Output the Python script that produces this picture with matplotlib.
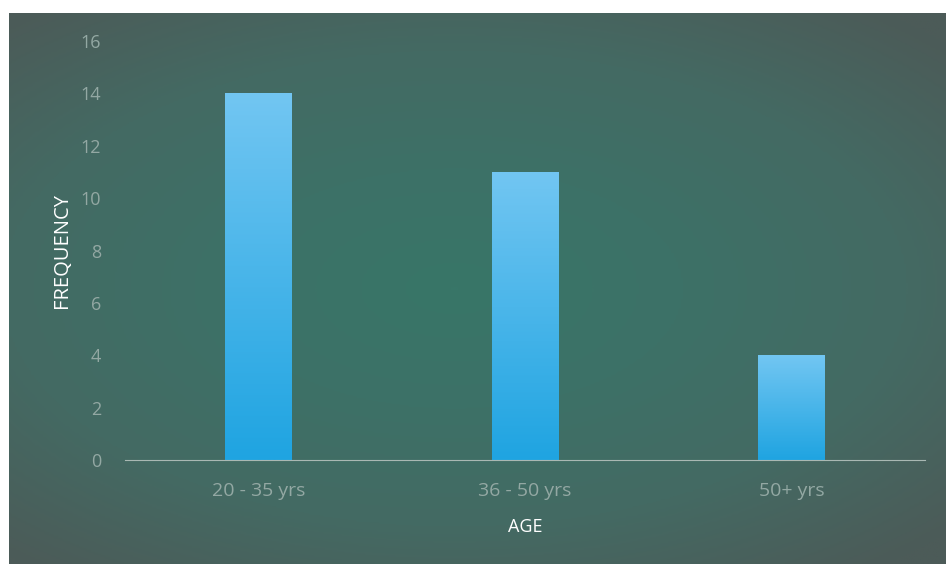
import numpy as np
import matplotlib.pyplot as plt
from matplotlib.colors import LinearSegmentedColormap

ages = ['20 - 35 yrs', '36 - 50 yrs', '50+ yrs']
frequency = [14, 11, 4]
yticks = [0, 2, 4, 6, 8, 10, 12, 14, 16]

plt.rcParams['font.family'] = ['Open Sans', 'DejaVu Sans']

fig = plt.figure(figsize=(9.46, 5.64), dpi=100)
fig.patch.set_facecolor('white')

# slide background: slate corners with a teal glow across the middle
bg = fig.add_axes([9 / 946, 0, 1 - 9 / 946, 1 - 13 / 564])
bg.set_axis_off()
gx, gy = np.meshgrid(np.linspace(-1, 1, 400), np.linspace(-1, 1, 240))
r = np.sqrt(((gx + 0.05) / 1.45) ** 2 + (gy / 1.3) ** 2)
bg_cmap = LinearSegmentedColormap.from_list('slide', ['#387668', '#3d7167', '#446a63', '#4c5b58'])
bg.imshow(np.clip(r, 0, 1), cmap=bg_cmap, aspect='auto', extent=[0, 1, 0, 1])

ax = fig.add_axes([125 / 946, 1 - 460 / 564, 800 / 946, (460 - 41) / 564])
ax.patch.set_alpha(0)

bars = ax.bar(range(len(ages)), frequency, width=0.25, color='#3fb0e6', zorder=2)

# vertical gradient inside each bar
bar_cmap = LinearSegmentedColormap.from_list('bar', ['#1fa4e1', '#72c6f2'])
grad = np.linspace(0, 1, 256).reshape(-1, 1)
for b in bars:
    x0, y0 = b.get_x(), b.get_y()
    im = ax.imshow(grad, cmap=bar_cmap, origin='lower', aspect='auto',
                   extent=[x0, x0 + b.get_width(), y0, y0 + b.get_height()], zorder=3)
    im.set_clip_path(b)

ax.set_xlim(-0.5, 2.5)
ax.set_ylim(0, 16)
ax.set_yticks(yticks)
ax.set_xticks(range(len(ages)))
ax.set_xticklabels(ages)

for s in ['top', 'right', 'left']:
    ax.spines[s].set_visible(False)
ax.spines['bottom'].set_color('#a9b8b3')
ax.spines['bottom'].set_linewidth(0.8)
ax.spines['bottom'].set_zorder(4)
ax.tick_params(length=0, labelsize=13, colors='#93a8a3')
ax.tick_params(axis='y', pad=17)
ax.tick_params(axis='x', pad=16)
for t in ax.get_xticklabels():
    t.set_fontsize(14)

ax.set_ylabel('FREQUENCY', color='white', fontsize=14.5, labelpad=6)
ax.set_xlabel('AGE', color='white', fontsize=13, labelpad=13)

fig.savefig('out.png', dpi=100)
